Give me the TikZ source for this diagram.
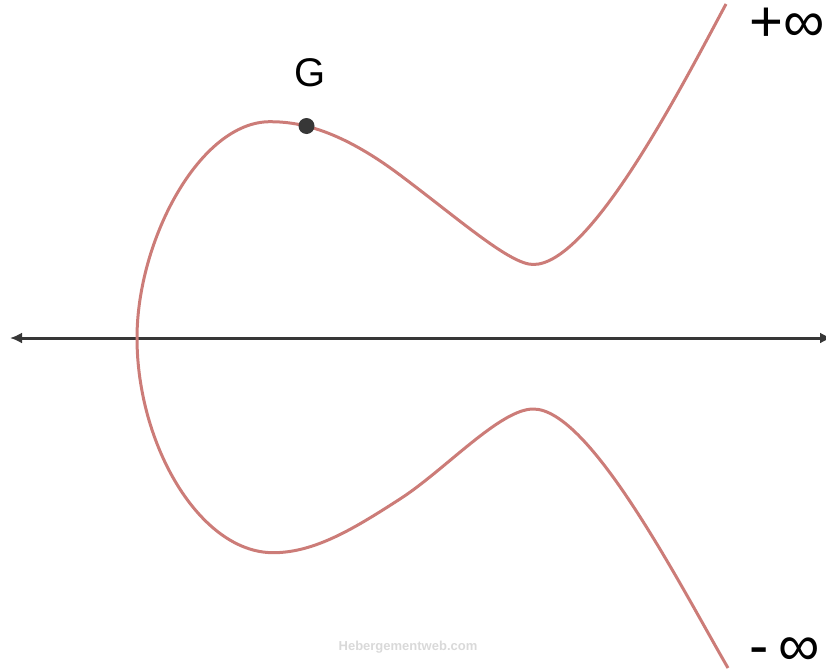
\documentclass[tikz,border=0pt]{standalone}
\usepackage{fontspec}
\setmainfont{Liberation Sans}
\usetikzlibrary{arrows.meta}
\definecolor{curvered}{RGB}{204,124,120}
\definecolor{axisgray}{RGB}{55,55,55}
\tikzset{
  curve/.style={draw=curvered, line width=3pt, line join=round},
  axisline/.style={draw=axisgray, line width=3pt, {Latex[length=12pt,width=11pt]}-{Latex[length=12pt,width=11pt]}},
  lbl/.style={inner sep=0pt, font=\fontsize{40}{44}\selectfont},
  inflbl/.style={inner sep=0pt, font=\fontsize{58}{60}\selectfont},
}
\begin{document}
\begin{tikzpicture}[x=1pt,y=-1pt]
\useasboundingbox (0,0) rectangle (826,669);
\clip (0,0) rectangle (826,669);
% axis
\coordinate (axL) at (10,338);
\coordinate (axR) at (832,338);
\draw[axisline] (axL) -- (axR);
% curve
\draw[curve] (726,4) .. controls (680,90) and (590,264.5) .. (533.3,264.5)
  .. controls (510,264.5) and (460,220) .. (400,175)
  .. controls (340,130) and (300,121.7) .. (270,121.7)
  .. controls (200,121.7) and (137,240) .. (137,338)
  .. controls (137,445) and (200,552.7) .. (273.3,552.7)
  .. controls (315,552.7) and (355,528) .. (400,499)
  .. controls (445,470) and (500,409) .. (533.3,409)
  .. controls (590,409) and (680,585) .. (728,668);
% point G
\node[circle, fill=axisgray, minimum size=16pt, inner sep=0pt] (dotG) at (306.5,126) {};
\node[lbl] (G) at (310,73) {G};
% infinity labels
\node[inflbl, anchor=west] (pinf) at (749,25) {+∞};
\node[inflbl, anchor=west] (minf) at (749,652) {-\,∞};
% watermark
\node[inner sep=0pt, text=gray!30, font=\bfseries\fontsize{13}{14}\selectfont] (wm) at (408,647) {Hebergementweb.com};
\end{tikzpicture}
\end{document}
